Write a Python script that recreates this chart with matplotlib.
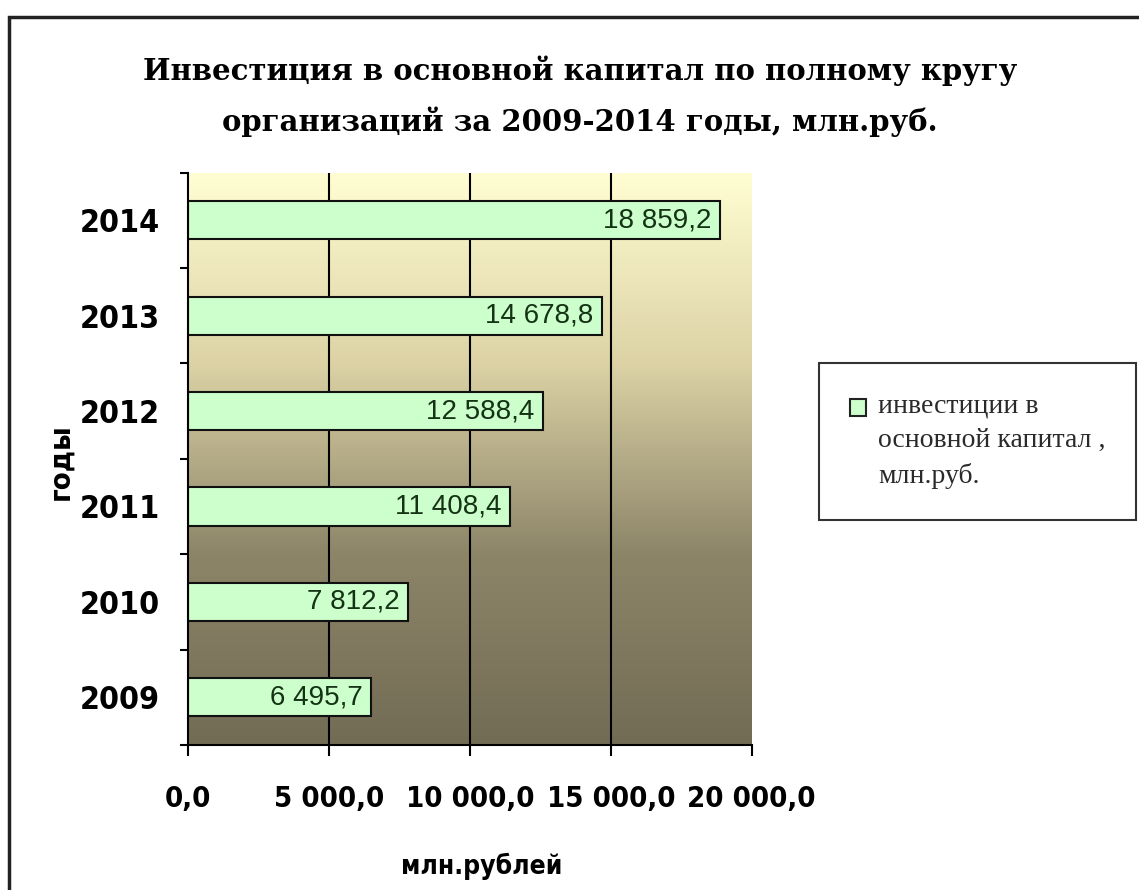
import numpy as np
import matplotlib
matplotlib.use('Agg')
import matplotlib.pyplot as plt
from matplotlib.patches import Rectangle, Patch
from matplotlib.colors import LinearSegmentedColormap
from matplotlib.legend_handler import HandlerBase

# data
years = ['2009', '2010', '2011', '2012', '2013', '2014']
investments = [6495.7, 7812.2, 11408.4, 12588.4, 14678.8, 18859.2]
x_ticks = [0, 5000, 10000, 15000, 20000]

title_lines = ['Инвестиция в основной капитал по полному кругу',
               'организаций за 2009-2014 годы, млн.руб.']
legend_label = 'инвестиции в\nосновной капитал ,\nмлн.руб.'

BAR_COLOR = '#ccffcc'
BOLD_FONT = ['DejaVu Sans Condensed', 'DejaVu Sans']


def ru_number(v):
    s = '{:,.1f}'.format(v)
    return s.replace(',', ' ').replace('.', ',')


class TopSquareHandler(HandlerBase):
    # small square drawn level with the first line of a multi-line label
    def create_artists(self, legend, orig_handle, xdescent, ydescent,
                       width, height, fontsize, trans):
        s = 0.6 * fontsize
        top = height - ydescent + 0.55 * fontsize
        sq = Rectangle((-xdescent, top - s), s, s,
                       facecolor=orig_handle.get_facecolor(),
                       edgecolor=orig_handle.get_edgecolor(),
                       linewidth=1.5, transform=trans)
        return [sq]


fig = plt.figure(figsize=(11.39, 8.90), dpi=100)
ax = fig.add_axes([0.165, 0.163, 0.495, 0.643])

# gradient plot background (light yellow -> dark olive)
grad_cmap = LinearSegmentedColormap.from_list(
    'bg', ['#fffed2', '#dcd2a6', '#8c8568', '#736c55'])
grad = np.linspace(0, 1, 256).reshape(-1, 1)
ax.imshow(grad, cmap=grad_cmap, aspect='auto', extent=[0, 20000, -0.5, 5.5],
          origin='upper', zorder=0)

y = np.arange(len(years))
bars = ax.barh(y, investments, height=0.4, color=BAR_COLOR,
               edgecolor='#111111', linewidth=1.5, zorder=3)

for rect, v in zip(bars, investments):
    ax.text(rect.get_width() - 300, rect.get_y() + rect.get_height() / 2,
            ru_number(v), ha='right', va='center', fontsize=20,
            family=['Liberation Sans', 'DejaVu Sans'], color='#143214',
            zorder=4)

ax.set_xlim(0, 20000)
ax.set_ylim(-0.5, len(years) - 0.5)

# vertical grid lines inside the plot only
for t in x_ticks[1:-1]:
    ax.axvline(t, color='black', linewidth=1.5, zorder=2)

ax.set_xticks(x_ticks)
ax.set_xticklabels([ru_number(t) for t in x_ticks])
ax.set_yticks(y)
ax.set_yticklabels(years)
ax.set_yticks(np.arange(-0.5, len(years)), minor=True)

ax.tick_params(axis='x', length=8, width=1.5, pad=21)
ax.tick_params(axis='y', which='major', length=0, pad=20)
ax.tick_params(axis='y', which='minor', length=6, width=1.5)
for lab in ax.get_xticklabels() + ax.get_yticklabels():
    lab.set_family(BOLD_FONT)
    lab.set_fontstretch('condensed')
    lab.set_fontweight('bold')
    lab.set_fontsize(21)
for lab in ax.get_yticklabels():
    lab.set_fontsize(23)

for side in ['top', 'right']:
    ax.spines[side].set_visible(False)
for side in ['left', 'bottom']:
    ax.spines[side].set_linewidth(1.5)
    ax.spines[side].set_zorder(5)

# title and axis labels
title_font = dict(fontsize=21, fontweight='bold',
                  family=['DejaVu Serif', 'DejaVu Sans'])
fig.text(0.509, 1 - 80 / 890, title_lines[0], ha='center', va='baseline',
         **title_font)
fig.text(0.509, 1 - 131 / 890, title_lines[1], ha='center', va='baseline',
         **title_font)
fig.text(482 / 1139, 1 - 866 / 890, 'млн.рублей', ha='center', va='center',
         fontsize=19, fontweight='bold', fontstretch='condensed',
         family=BOLD_FONT)
fig.text(60 / 1139, 1 - 462 / 890, 'годы', ha='center', va='center',
         rotation=90, fontsize=21, fontweight='bold', fontstretch='condensed',
         family=BOLD_FONT)

# legend
handle = Patch(facecolor=BAR_COLOR, edgecolor='#222222')
leg = fig.legend([handle], [legend_label], loc='upper left',
                 handler_map={Patch: TopSquareHandler()},
                 bbox_to_anchor=(819 / 1139, 1 - 363 / 890),
                 frameon=True, fancybox=False, edgecolor='black',
                 prop={'family': ['Liberation Serif', 'DejaVu Serif'],
                       'size': 20},
                 labelcolor='#2a2a2a',
                 handlelength=0.6, handleheight=2.7, handletextpad=0.42,
                 borderpad=1.1, borderaxespad=0)
leg.get_texts()[0].set_linespacing(1.5)
leg.get_frame().set_linewidth(1.5)

# outer chart border
fig.add_artist(Rectangle((9 / 1139, -0.1), 1.2, 1.1 - 17 / 890,
                         transform=fig.transFigure, fill=False,
                         edgecolor='#222222', linewidth=2.5))

fig.savefig('out.png', dpi=100)
